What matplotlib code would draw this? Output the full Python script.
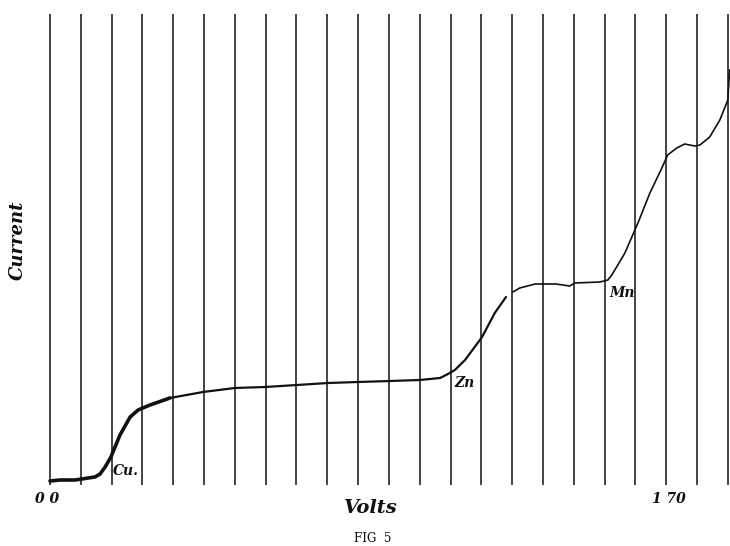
import matplotlib
matplotlib.use("Agg")
import matplotlib.pyplot as plt

# =========================
# DATA (Fig 5)
# =========================
# volts / current (arbitrary units), first trace piece up to the pen gap
volts_a = [0.000, 0.028, 0.069, 0.124, 0.138, 0.152, 0.168, 0.193, 0.221, 0.243,
           0.276, 0.331, 0.422, 0.510, 0.593, 0.681, 0.767, 0.849, 0.938, 1.020,
           1.076, 1.098, 1.117, 1.145, 1.192, 1.227, 1.258]
current_a = [0.01, 0.02, 0.02, 0.05, 0.08, 0.15, 0.25, 0.47, 0.65, 0.72,
             0.77, 0.84, 0.90, 0.94, 0.95, 0.97, 0.99, 1.00, 1.01, 1.02,
             1.04, 1.08, 1.12, 1.22, 1.45, 1.69, 1.85]

# second trace piece, after the gap
volts_b = [1.277, 1.296, 1.338, 1.396, 1.434, 1.448, 1.517, 1.539, 1.550, 1.586,
           1.622, 1.655, 1.688, 1.704, 1.729, 1.751, 1.779, 1.793, 1.820, 1.848,
           1.870, 1.875]
current_b = [1.90, 1.94, 1.98, 1.98, 1.96, 1.99, 2.00, 2.02, 2.07, 2.29,
             2.59, 2.89, 3.14, 3.27, 3.34, 3.38, 3.36, 3.37, 3.45, 3.62,
             3.82, 4.12]

# timing marks every 0.085 V
marks_volts = [0.085 * k for k in range(23)]

# wave labels: name, volts, current
waves = ["Cu.", "Zn", "Mn"]
wave_volts = [0.174, 1.117, 1.542]
wave_current = [0.11, 0.99, 1.89]

tick_volts = [-0.008, 1.707]
tick_labels = ["0 0", "1 70"]

# =========================
# PLOT
# =========================
fig = plt.figure(figsize=(7.30, 5.46), dpi=100)
ax = fig.add_axes([0, 0, 1, 1])
ax.set_xlim(-0.138, 1.876)
ax.set_ylim(-0.64, 4.82)
ax.axis("off")

ink = "#111111"

ax.vlines(marks_volts, -0.03, 4.68, color=ink, linewidth=1.1)

# thick early part of the trace, thinner later
ax.plot(volts_a[:12], current_a[:12], color=ink, linewidth=2.6, solid_capstyle="round")
ax.plot(volts_a[11:], current_a[11:], color=ink, linewidth=1.6, solid_capstyle="round")
ax.plot(volts_b, current_b, color=ink, linewidth=1.2, solid_capstyle="round")

hand = dict(family="DejaVu Serif", style="italic", weight="bold", color=ink)

for name, v, c in zip(waves, wave_volts, wave_current):
    ax.text(v, c, name, fontsize=10, ha="left", va="center", **hand)

for v, lab in zip(tick_volts, tick_labels):
    ax.text(v, -0.17, lab, fontsize=10, ha="center", va="center", **hand)

ax.text(-0.088, 2.42, "Current", fontsize=13, rotation=90, ha="center", va="center", **hand)
ax.text(0.885, -0.26, "Volts", fontsize=14, ha="center", va="center", **hand)
ax.text(0.891, -0.57, "FIG  5", fontsize=8.5, ha="center", va="center",
        family="DejaVu Serif", color=ink)

fig.savefig("out.png", dpi=100)
